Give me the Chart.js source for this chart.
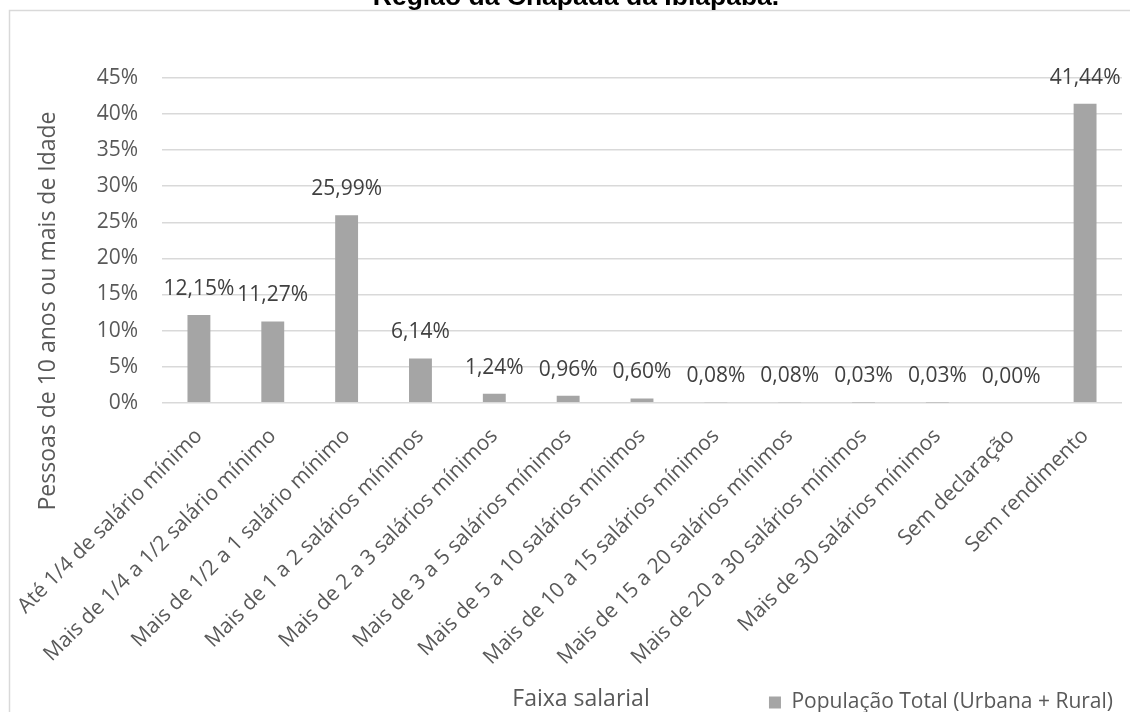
<!DOCTYPE html>
<html>
<head>
<meta charset="utf-8">
<script src="https://cdn.jsdelivr.net/npm/chart.js@4/dist/chart.umd.min.js"></script>
<style>
  html, body { margin: 0; padding: 0; background: #fff; }
  #wrap { width: 1130px; height: 712px; position: relative; }
</style>
</head>
<body>
<div id="wrap"><canvas id="chart"></canvas></div>
<script>
// dados
const categories = [
    "Até 1/4 de salário mínimo",
    "Mais de 1/4 a 1/2 salário mínimo",
    "Mais de 1/2 a 1 salário mínimo",
    "Mais de 1 a 2 salários mínimos",
    "Mais de 2 a 3 salários mínimos",
    "Mais de 3 a 5 salários mínimos",
    "Mais de 5 a 10 salários mínimos",
    "Mais de 10 a 15 salários mínimos",
    "Mais de 15 a 20 salários mínimos",
    "Mais de 20 a 30 salários mínimos",
    "Mais de 30 salários mínimos",
    "Sem declaração",
    "Sem rendimento",
];
const populacaoTotal = [12.15, 11.27, 25.99, 6.14, 1.24, 0.96, 0.60, 0.08, 0.08, 0.03, 0.03, 0.00, 41.44];
const yTicks = [0, 5, 10, 15, 20, 25, 30, 35, 40, 45];

const seriesName = "População Total (Urbana + Rural)";
const chartTitle = "Região da Chapada da Ibiapaba.";
const xTitle = "Faixa salarial";
const yTitle = "Pessoas de 10 anos ou mais de Idade";

const FONT = "'Open Sans', 'Noto Sans', sans-serif";
const textGray = "#595959";

function fmt(v) {
    return v.toFixed(2).replace(".", ",") + "%";
}

// moldura, título e títulos dos eixos
const decorations = {
    id: "decorations",
    beforeDraw(chart) {
        const ctx = chart.ctx;
        ctx.save();
        ctx.strokeStyle = "#d9d9d9";
        ctx.lineWidth = 1.5;
        ctx.strokeRect(9.5, 10.5, 1200, 800);
        ctx.restore();
    },
    afterDraw(chart) {
        const ctx = chart.ctx;
        ctx.save();
        ctx.fillStyle = "#000";
        ctx.font = "bold 26.5px 'Liberation Sans', Arial, sans-serif";
        ctx.textAlign = "center";
        ctx.textBaseline = "alphabetic";
        ctx.fillText(chartTitle, 576, 5);

        ctx.fillStyle = textGray;
        ctx.font = "23px " + FONT;
        ctx.textBaseline = "middle";
        ctx.fillText(xTitle, 581, 699);

        ctx.translate(48, 311);
        ctx.rotate(-Math.PI / 2);
        ctx.fillText(yTitle, 0, 0);
        ctx.restore();
    },
};

// rótulos de dados acima das barras
const barLabels = {
    id: "barLabels",
    afterDatasetsDraw(chart) {
        const ctx = chart.ctx;
        const meta = chart.getDatasetMeta(0);
        ctx.save();
        ctx.fillStyle = "#404040";
        ctx.font = "21px " + FONT;
        ctx.textAlign = "center";
        ctx.textBaseline = "middle";
        meta.data.forEach((bar, i) => {
            ctx.fillText(fmt(populacaoTotal[i]), bar.x, bar.y - 26);
        });
        ctx.restore();
    },
};

const ctx = document.getElementById("chart");

new Chart(ctx, {
    type: "bar",
    data: {
        labels: categories,
        datasets: [
            {
                label: seriesName,
                data: populacaoTotal,
                backgroundColor: "#a5a5a5",
                categoryPercentage: 1,
                barPercentage: 0.31,
            },
        ],
    },
    options: {
        responsive: true,
        maintainAspectRatio: false,
        animation: false,
        devicePixelRatio: 1,
        layout: {
            padding: { top: 78, right: 8, bottom: -11, left: 0 },
        },
        plugins: {
            title: { display: false },
            tooltip: { enabled: false },
            legend: {
                display: true,
                position: "bottom",
                align: "end",
                labels: {
                    boxWidth: 12,
                    boxHeight: 12,
                    color: textGray,
                    font: { family: FONT, size: 21 },
                    padding: 9,
                },
            },
        },
        scales: {
            x: {
                grid: { display: false },
                border: { display: false },
                ticks: {
                    autoSkip: false,
                    minRotation: 45,
                    maxRotation: 45,
                    color: textGray,
                    font: { family: FONT, size: 21 },
                    padding: 13,
                },
            },
            y: {
                min: 0,
                max: 45,
                afterBuildTicks(scale) {
                    scale.ticks = yTicks.map((v) => ({ value: v }));
                },
                afterFit(scale) {
                    scale.width = 162;
                },
                grid: { color: "#d9d9d9", lineWidth: 1.5, drawTicks: false },
                border: { display: false },
                ticks: {
                    color: textGray,
                    font: { family: FONT, size: 21 },
                    padding: 24,
                    callback: (v) => v + "%",
                },
            },
        },
    },
    plugins: [decorations, barLabels],
});
</script>
</body>
</html>
